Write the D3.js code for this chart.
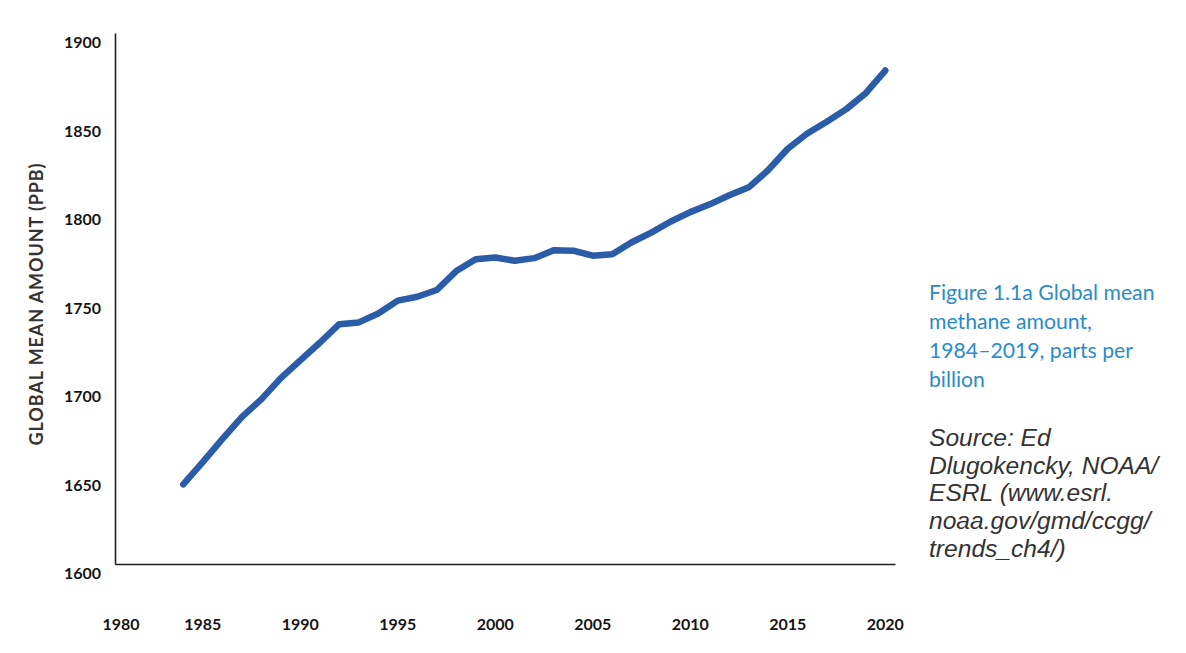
<!DOCTYPE html>
<html>
<head>
<meta charset="utf-8">
<script src="https://cdn.jsdelivr.net/npm/d3@7"></script>
<style>
  html, body { margin: 0; padding: 0; background: #fff; }
  svg { display: block; }
</style>
</head>
<body>
<svg id="chart" width="1186" height="653"></svg>
<script>
// ---- data ----
const years = [1984,1985,1986,1987,1988,1989,1990,1991,1992,1993,1994,1995,1996,1997,1998,1999,2000,2001,2002,2003,2004,2005,2006,2007,2008,2009,2010,2011,2012,2013,2014,2015,2016,2017,2018,2019,2020];
const methane = [1645,1657.5,1670.5,1683,1693,1705,1715,1725,1735.5,1736.5,1741.5,1748.8,1751,1754.8,1765.5,1772.2,1773.2,1771.3,1772.8,1777.3,1777,1774.2,1775,1781.8,1787.2,1793.5,1798.8,1803.2,1808.3,1812.8,1822.6,1834.6,1843.2,1849.9,1857,1866,1878.8];
const xTicks = [1980,1985,1990,1995,2000,2005,2010,2015,2020];
const yTicks = [1600,1650,1700,1750,1800,1850,1900];
const yTitle = "GLOBAL MEAN AMOUNT (PPB)";
const captionLines = ["Figure 1.1a Global mean","methane amount,","1984\u20132019, parts per","billion"];
const sourceLines = ["Source: Ed","Dlugokencky, NOAA/","ESRL (www.esrl.","noaa.gov/gmd/ccgg/","trends_ch4/)"];

const svg = d3.select("#chart");
const plot = {left: 115, right: 895, top: 33, bottom: 564};

const x = d3.scaleLinear().domain([1980.5, 2020.5]).range([plot.left, plot.right]);
const y = d3.scaleLinear().domain([1600, 1900]).range([plot.bottom, plot.top]);

const labelFont = "Lato, 'Open Sans', sans-serif";

// y axis
const gy = svg.append("g")
  .attr("transform", `translate(${plot.left},0)`)
  .call(d3.axisLeft(y).tickValues(yTicks).tickSize(0).tickPadding(14).tickFormat(d3.format("d")));
gy.select(".domain").attr("stroke", "#1e1e1e").attr("stroke-width", 1.6);
gy.selectAll("text")
  .attr("dy", "0.35em")
  .attr("y", 9)
  .attr("font-family", labelFont)
  .attr("font-weight", 700)
  .attr("font-size", 16)
  .attr("fill", "#151515");

// x axis
const gx = svg.append("g")
  .attr("transform", `translate(0,${plot.bottom})`)
  .call(d3.axisBottom(x).tickValues(xTicks).tickSize(0).tickPadding(0).tickFormat(d3.format("d")));
gx.select(".domain").attr("stroke", "#1e1e1e").attr("stroke-width", 1.6);
gx.selectAll(".tick")
  .attr("transform", d => `translate(${Math.max(x(d), plot.left + 6)},0)`);
gx.selectAll("text")
  .attr("y", 60)
  .attr("dy", "0.35em")
  .attr("font-family", labelFont)
  .attr("font-weight", 700)
  .attr("font-size", 16)
  .attr("fill", "#151515");

// y title
svg.append("text")
  .attr("transform", "translate(37,304) rotate(-90)")
  .attr("text-anchor", "middle")
  .attr("dy", "0.35em")
  .attr("font-family", labelFont)
  .attr("font-weight", 700)
  .attr("font-size", 18)
  .attr("letter-spacing", "0.9px")
  .attr("fill", "#333")
  .text(yTitle);

// line
const data = years.map((yr, i) => ({yr, v: methane[i]}));
svg.append("path")
  .datum(data)
  .attr("fill", "none")
  .attr("stroke", "#2a5ca8")
  .attr("stroke-width", 6.5)
  .attr("stroke-linecap", "round")
  .attr("stroke-linejoin", "round")
  .attr("d", d3.line().x(d => x(d.yr)).y(d => y(d.v)));

// caption
const cap = svg.append("text")
  .attr("font-family", labelFont)
  .attr("font-weight", 400)
  .attr("font-size", 21.2)
  .attr("fill", "#2a8cc8");
captionLines.forEach((t, i) => {
  cap.append("tspan").attr("x", 929).attr("y", 300 + i * 29).text(t);
});

const src = svg.append("text")
  .attr("font-family", "'Liberation Sans', Arial, sans-serif")
  .attr("font-style", "italic")
  .attr("font-size", 24.6)
  .attr("fill", "#333");
sourceLines.forEach((t, i) => {
  src.append("tspan").attr("x", 929).attr("y", 446 + i * 27.7).text(t);
});
</script>
</body>
</html>
